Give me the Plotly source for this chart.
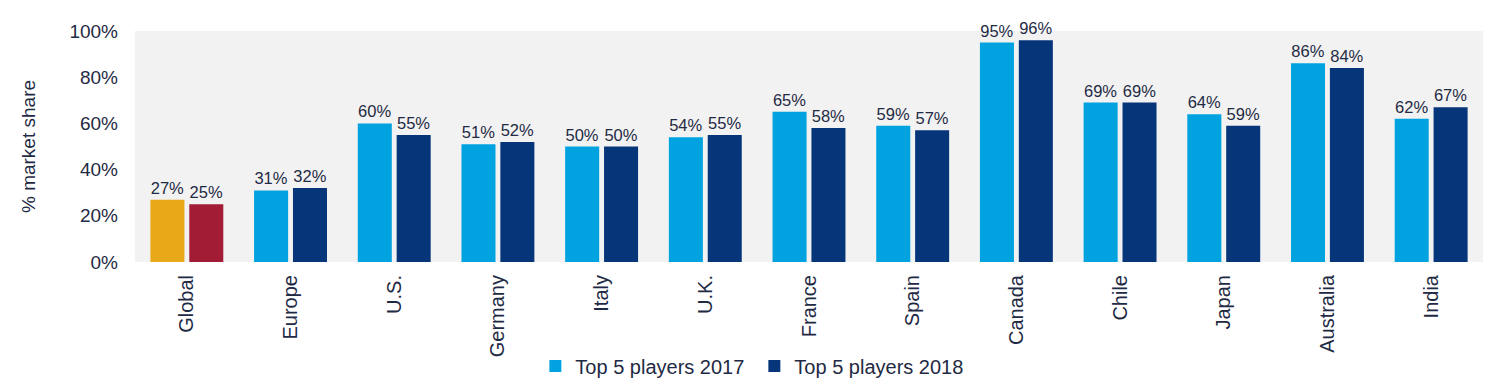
import plotly.graph_objects as go

categories = ["Global", "Europe", "U.S.", "Germany", "Italy", "U.K.", "France",
              "Spain", "Canada", "Chile", "Japan", "Australia", "India"]
share_2017 = [0.27, 0.31, 0.60, 0.51, 0.50, 0.54, 0.65, 0.59, 0.95, 0.69, 0.64, 0.86, 0.62]
share_2018 = [0.25, 0.32, 0.55, 0.52, 0.50, 0.55, 0.58, 0.57, 0.96, 0.69, 0.59, 0.84, 0.67]
series_names = ["Top 5 players 2017", "Top 5 players 2018"]

C17 = "#00A3E0"
C18 = "#06357A"
G17 = "#E8A817"
G18 = "#A21C36"
TXT = "#1F2A44"
FONT = "Liberation Sans, Arial, sans-serif"

fig = go.Figure()
# Global highlight bars (separate colors), sharing offset groups with the main series
fig.add_trace(go.Bar(x=categories[:1], y=share_2017[:1], marker_color=G17,
                     offsetgroup="a", showlegend=False,
                     text=[f"{v:.0%}" for v in share_2017[:1]], textposition="outside"))
fig.add_trace(go.Bar(x=categories[:1], y=share_2018[:1], marker_color=G18,
                     offsetgroup="b", showlegend=False,
                     text=[f"{v:.0%}" for v in share_2018[:1]], textposition="outside"))
fig.add_trace(go.Bar(x=categories[1:], y=share_2017[1:], marker_color=C17,
                     offsetgroup="a", name=series_names[0],
                     text=[f"{v:.0%}" for v in share_2017[1:]], textposition="outside"))
fig.add_trace(go.Bar(x=categories[1:], y=share_2018[1:], marker_color=C18,
                     offsetgroup="b", name=series_names[1],
                     text=[f"{v:.0%}" for v in share_2018[1:]], textposition="outside"))

fig.update_traces(textfont=dict(size=16.5, color=TXT, family=FONT),
                  cliponaxis=False, marker_line_width=0)

fig.update_layout(
    width=1500, height=383,
    margin=dict(l=127, r=25, t=23, b=129, autoexpand=False),
    paper_bgcolor="white",
    plot_bgcolor="#F2F2F2",
    barmode="group",
    bargap=0.25,
    bargroupgap=0.125,
    font=dict(family=FONT, color=TXT, size=19),
    xaxis=dict(categoryorder="array", categoryarray=categories,
               tickangle=-90, tickfont=dict(size=20, color=TXT),
               showgrid=False, zeroline=False, showline=False, ticks="",
               ticklabelstandoff=8),
    yaxis=dict(range=[0, 1], dtick=0.2, tickformat=".0%",
               tickfont=dict(size=19, color=TXT),
               showgrid=False, zeroline=False, showline=False,
               ticklabelstandoff=16,
               title=dict(text="% market share", font=dict(size=19, color=TXT), standoff=28),
               automargin=True),
    legend=dict(orientation="h", x=0.297, xanchor="left", y=-0.45, yanchor="middle",
                font=dict(size=20, color=TXT), bgcolor="rgba(0,0,0,0)",
                traceorder="normal", entrywidth=174, entrywidthmode="pixels"),
)

fig.write_html("out.html")
